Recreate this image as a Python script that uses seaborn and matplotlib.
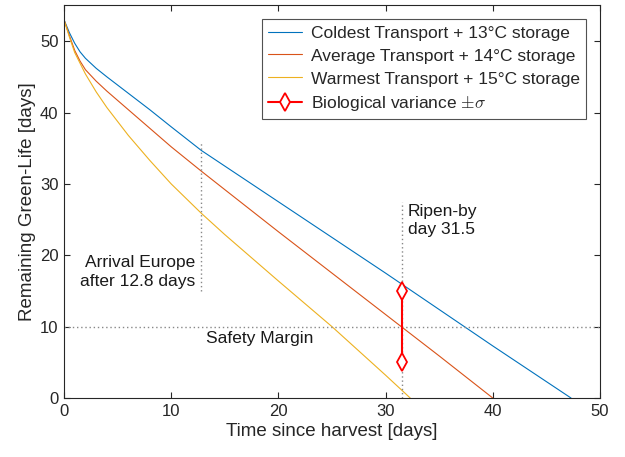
import matplotlib
matplotlib.use("Agg")
import matplotlib.pyplot as plt
import seaborn as sns
import pandas as pd

# Data
t_cold = [0, 0.5, 1, 1.5, 2, 3, 4, 6, 8, 10, 12.8, 15, 20, 25, 30, 35, 40, 45, 47.3]
v_cold = [53, 51.2, 49.7, 48.5, 47.6, 46.2, 45.0, 42.7, 40.4, 38.0, 34.7, 32.5, 27.5, 22.5, 17.5, 12.4, 7.3, 2.3, 0]

t_avg = [0, 0.5, 1, 1.5, 2, 3, 4, 6, 8, 10, 12.8, 15, 20, 25, 30, 35, 40]
v_avg = [53, 50.8, 48.7, 47.2, 46.0, 44.4, 43.0, 40.4, 37.8, 35.2, 31.8, 29.2, 23.3, 17.5, 11.7, 5.9, 0]

t_warm = [0, 0.5, 1, 2, 3, 4, 6, 8, 10, 12.8, 15, 20, 25, 30, 32.3]
v_warm = [53, 50.6, 48.4, 45.4, 42.9, 40.7, 36.8, 33.3, 30.0, 25.9, 22.9, 16.4, 10.0, 3.2, 0]

labels = ["Coldest Transport + 13°C storage",
          "Average Transport + 14°C storage",
          "Warmest Transport + 15°C storage"]
colors = ["#0072BD", "#D95319", "#EDB120"]

ripen_day = 31.5
bio_low, bio_high = 5, 15
arrival_day = 12.8
safety = 10

df = pd.concat([
    pd.DataFrame({"t": t_cold, "v": v_cold, "s": labels[0]}),
    pd.DataFrame({"t": t_avg, "v": v_avg, "s": labels[1]}),
    pd.DataFrame({"t": t_warm, "v": v_warm, "s": labels[2]}),
])

sns.set_style("white")
plt.rcParams["font.family"] = ["Liberation Sans", "DejaVu Sans"]
plt.rcParams["mathtext.fontset"] = "cm"

fig = plt.figure(figsize=(6.25, 4.57), dpi=100)
ax = fig.add_axes([0.1024, 0.129, 0.8576, 0.859])

sns.lineplot(data=df, x="t", y="v", hue="s", palette=colors, hue_order=labels,
             linewidth=0.8, ax=ax, sort=False, estimator=None)

dot_kw = dict(color="#888888", linestyle=(0, (1, 2)), linewidth=1.0)
ax.plot([arrival_day, arrival_day], [15, 36], **dot_kw)
ax.plot([ripen_day, ripen_day], [0, 27.5], **dot_kw)
ax.axhline(safety, **dot_kw)

ax.plot([ripen_day, ripen_day], [bio_low, bio_high], color="red", lw=1.5,
        marker="d", ms=9, mfc="white", mec="red", mew=1.3,
        label=r"Biological variance $\pm\sigma$")

txt_kw = dict(fontsize=12.5, linespacing=1.3, color="#1a1a1a")
ax.text(12.2, 17.7, "Arrival Europe\nafter 12.8 days", ha="right", va="center", **txt_kw)
ax.text(32.1, 24.9, "Ripen-by\nday 31.5", ha="left", va="center", **txt_kw)
ax.text(13.2, 8.3, "Safety Margin", ha="left", va="center", **txt_kw)

ax.set_xlim(0, 50)
ax.set_ylim(0, 55)
ax.set_xticks([0, 10, 20, 30, 40, 50])
ax.set_yticks([0, 10, 20, 30, 40, 50])
ax.tick_params(direction="in", length=4, labelsize=12, colors="#262626",
               top=True, right=True, bottom=True, left=True,
               labeltop=False, labelright=False, pad=4)
for s in ax.spines.values():
    s.set_visible(True)
    s.set_color("#262626")
    s.set_linewidth(0.8)

ax.set_xlabel("Time since harvest [days]", fontsize=13.5, color="#262626", labelpad=3)
ax.set_ylabel("Remaining Green-Life [days]", fontsize=13.5, color="#262626", labelpad=3)

leg = ax.legend(loc="upper right", fontsize=12.5, frameon=True, fancybox=False,
                edgecolor="#262626", handlelength=2.0, borderaxespad=0.8,
                labelspacing=0.45, borderpad=0.35, handletextpad=0.5)
leg.get_frame().set_linewidth(0.8)

fig.savefig("out.png", dpi=100)
